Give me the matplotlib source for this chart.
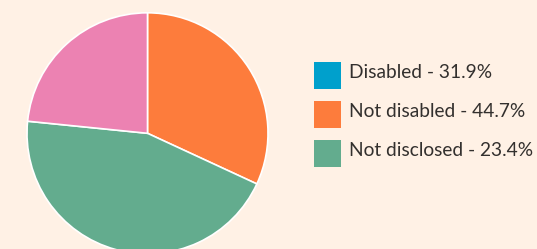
import matplotlib
matplotlib.use("Agg")
import matplotlib.pyplot as plt
from matplotlib.patches import Rectangle

# pie wedges (drawn clockwise from 12 o'clock)
pie_values = [31.9, 44.7, 23.4]
pie_colors = ["#fd7c3c", "#63ac8e", "#ec82b2"]

# legend entries
legend_labels = ["Disabled - 31.9%", "Not disabled - 44.7%", "Not disclosed - 23.4%"]
legend_colors = ["#00a0cc", "#fd7c3c", "#63ac8e"]

bg = "#fff1e5"
plt.rcParams["font.family"] = ["Lato", "DejaVu Sans"]

W, H = 537, 249
fig = plt.figure(figsize=(W / 100, H / 100), dpi=100, facecolor=bg)

# pie axes: centre ~ (147.5, 133.3) px, radius ~120.5 px
cx, cy, r = 147.5, 133.3, 120.5
ax = fig.add_axes([(cx - r) / W, (H - cy - r) / H, 2 * r / W, 2 * r / H])
ax.set_facecolor(bg)
ax.pie(pie_values, colors=pie_colors, startangle=90, counterclock=False,
       wedgeprops=dict(edgecolor="white", linewidth=1.2))
ax.set_xlim(-1, 1)
ax.set_ylim(-1, 1)
ax.set_aspect("auto")
ax.axis("off")

# legend drawn by hand (pixel layout, top-left origin)
box = 27
row_step = 38.75
for i, (lab, col) in enumerate(zip(legend_labels, legend_colors)):
    top = 62 + row_step * i
    fig.patches.append(Rectangle((314 / W, 1 - (top + box) / H), box / W, box / H,
                                 transform=fig.transFigure, facecolor=col,
                                 edgecolor="none"))
    fig.text(349 / W, 1 - (top + 16.3) / H, lab, fontsize=13.8,
             color="#33302e", va="baseline", ha="left")

fig.savefig("out.png", dpi=100, facecolor=bg)
